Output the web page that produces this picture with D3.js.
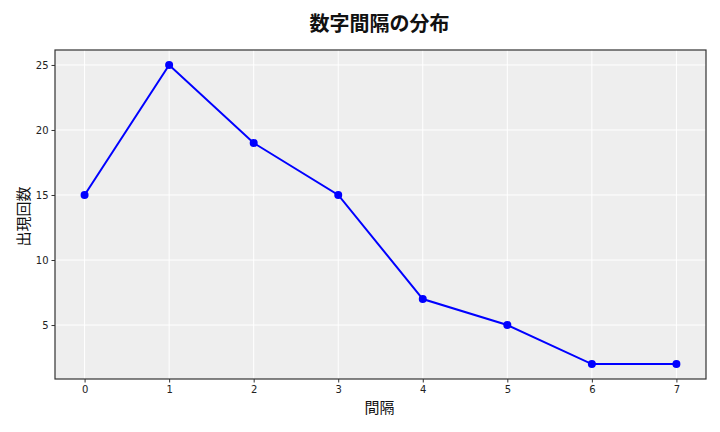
<!DOCTYPE html>
<html>
<head>
<meta charset="utf-8">
<script src="https://cdn.jsdelivr.net/npm/d3@7"></script>
<style>
  body { margin: 0; background: #fff; }
  svg { display: block; font-family: "Noto Sans CJK JP", "DejaVu Sans", sans-serif; }
</style>
</head>
<body>
<div id="chart"></div>
<script>
// data
var gaps = [0, 1, 2, 3, 4, 5, 6, 7];
var counts = [15, 25, 19, 15, 7, 5, 2, 2];
var yTicks = [5, 10, 15, 20, 25];

var width = 720, height = 432;
var margin = { left: 55, right: 14, top: 50, bottom: 53 };

var svg = d3.select("#chart").append("svg")
    .attr("width", width).attr("height", height);

var x = d3.scaleLinear().domain([-0.35, 7.35]).range([margin.left, width - margin.right]);
var y = d3.scaleLinear().domain([0.85, 26.15]).range([height - margin.bottom, margin.top]);

// plot background
svg.append("rect")
    .attr("x", margin.left).attr("y", margin.top)
    .attr("width", width - margin.left - margin.right)
    .attr("height", height - margin.top - margin.bottom)
    .attr("fill", "#eeeeee");

// grid
svg.append("g").selectAll("line").data(gaps).enter().append("line")
    .attr("x1", d => x(d)).attr("x2", d => x(d))
    .attr("y1", margin.top).attr("y2", height - margin.bottom)
    .attr("stroke", "#fff").attr("stroke-width", 1);
svg.append("g").selectAll("line").data(yTicks).enter().append("line")
    .attr("x1", margin.left).attr("x2", width - margin.right)
    .attr("y1", d => y(d)).attr("y2", d => y(d))
    .attr("stroke", "#fff").attr("stroke-width", 1);

// axes
var xAxis = svg.append("g")
    .attr("transform", "translate(0," + (height - margin.bottom) + ")")
    .call(d3.axisBottom(x).tickValues(gaps).tickFormat(d3.format("d")).tickSizeOuter(0).tickSize(3.5).tickPadding(3));
var yAxis = svg.append("g")
    .attr("transform", "translate(" + margin.left + ",0)")
    .call(d3.axisLeft(y).tickValues(yTicks).tickFormat(d3.format("d")).tickSizeOuter(0).tickSize(3.5).tickPadding(3));
[xAxis, yAxis].forEach(function(g) {
  g.select(".domain").remove();
  g.selectAll(".tick line").attr("stroke", "#333");
  g.selectAll(".tick text").attr("fill", "#222").style("font-size", "10px")
      .style("font-family", "'DejaVu Sans', sans-serif");
});

// frame
svg.append("rect")
    .attr("x", margin.left).attr("y", margin.top)
    .attr("width", width - margin.left - margin.right)
    .attr("height", height - margin.top - margin.bottom)
    .attr("fill", "none").attr("stroke", "#333").attr("stroke-width", 1.2);

// line + markers
var line = d3.line().x((d, i) => x(gaps[i])).y(d => y(d));
svg.append("path").datum(counts)
    .attr("d", line)
    .attr("fill", "none").attr("stroke", "#0000ff").attr("stroke-width", 2);
svg.append("g").selectAll("circle").data(counts).enter().append("circle")
    .attr("cx", (d, i) => x(gaps[i])).attr("cy", d => y(d))
    .attr("r", 4).attr("fill", "#0000ff");

// texts
svg.append("text")
    .attr("x", (margin.left + width - margin.right) / 2 - 1).attr("y", 31)
    .attr("text-anchor", "middle")
    .style("font-size", "20px").style("font-weight", "bold").attr("fill", "#111")
    .text("数字間隔の分布");
svg.append("text")
    .attr("x", (margin.left + width - margin.right) / 2 - 1).attr("y", 413)
    .attr("text-anchor", "middle")
    .style("font-size", "15px").attr("fill", "#111")
    .text("間隔");
svg.append("text")
    .attr("transform", "translate(29," + ((margin.top + height - margin.bottom) / 2 + 2) + ") rotate(-90)")
    .attr("text-anchor", "middle")
    .style("font-size", "15px").attr("fill", "#111")
    .text("出現回数");
</script>
</body>
</html>
